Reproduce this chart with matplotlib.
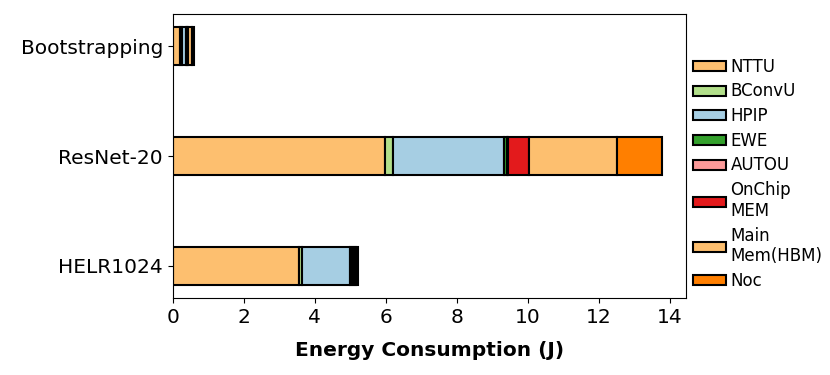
import matplotlib
matplotlib.use("Agg")
import matplotlib.pyplot as plt
import numpy as np

categories = ["HELR1024", "ResNet-20", "Bootstrapping"]
components = ["NTTU", "BConvU", "HPIP", "EWE", "AUTOU", "OnChip\nMEM", "Main\nMem(HBM)", "Noc"]
colors = ["#fdbf6f", "#b2df8a", "#a6cee3", "#33a02c", "#fb9a99", "#e31a1c", "#fdbf6f", "#ff7f00"]

# energy (J) per component, order: HELR1024, ResNet-20, Bootstrapping
NTTU = [3.55, 5.98, 0.22]
BConvU = [0.09, 0.21, 0.03]
HPIP = [1.36, 3.14, 0.14]
EWE = [0.04, 0.07, 0.02]
AUTOU = [0.02, 0.05, 0.01]
OnChip = [0.04, 0.59, 0.02]
MainMem = [0.07, 2.46, 0.11]
Noc = [0.04, 1.27, 0.05]

series = [NTTU, BConvU, HPIP, EWE, AUTOU, OnChip, MainMem, Noc]

fig = plt.figure(figsize=(8.3, 3.75), dpi=100)
ax = fig.add_axes([0.208, 0.205, 0.619, 0.758])

y = np.arange(len(categories))
left = np.zeros(len(categories))
for name, vals, c in zip(components, series, colors):
    ax.barh(y, vals, left=left, height=0.35, color=c, edgecolor="black",
            linewidth=1.5, label=name)
    left += np.array(vals)

ax.set_yticks(y)
ax.set_yticklabels(categories, fontsize=14.5)
ax.tick_params(axis="x", labelsize=14.5)
ax.set_xlabel("Energy Consumption (J)", fontsize=14.5, fontweight="bold", labelpad=10)
ax.set_xticks(np.arange(0, 15, 2))

ax.legend(loc="center left", bbox_to_anchor=(1.0, 0.437), frameon=False,
          fontsize=12, handlelength=2.0, handleheight=0.55, handletextpad=0.25,
          borderaxespad=0.0, labelspacing=0.4)

fig.savefig("out.png", dpi=100)
